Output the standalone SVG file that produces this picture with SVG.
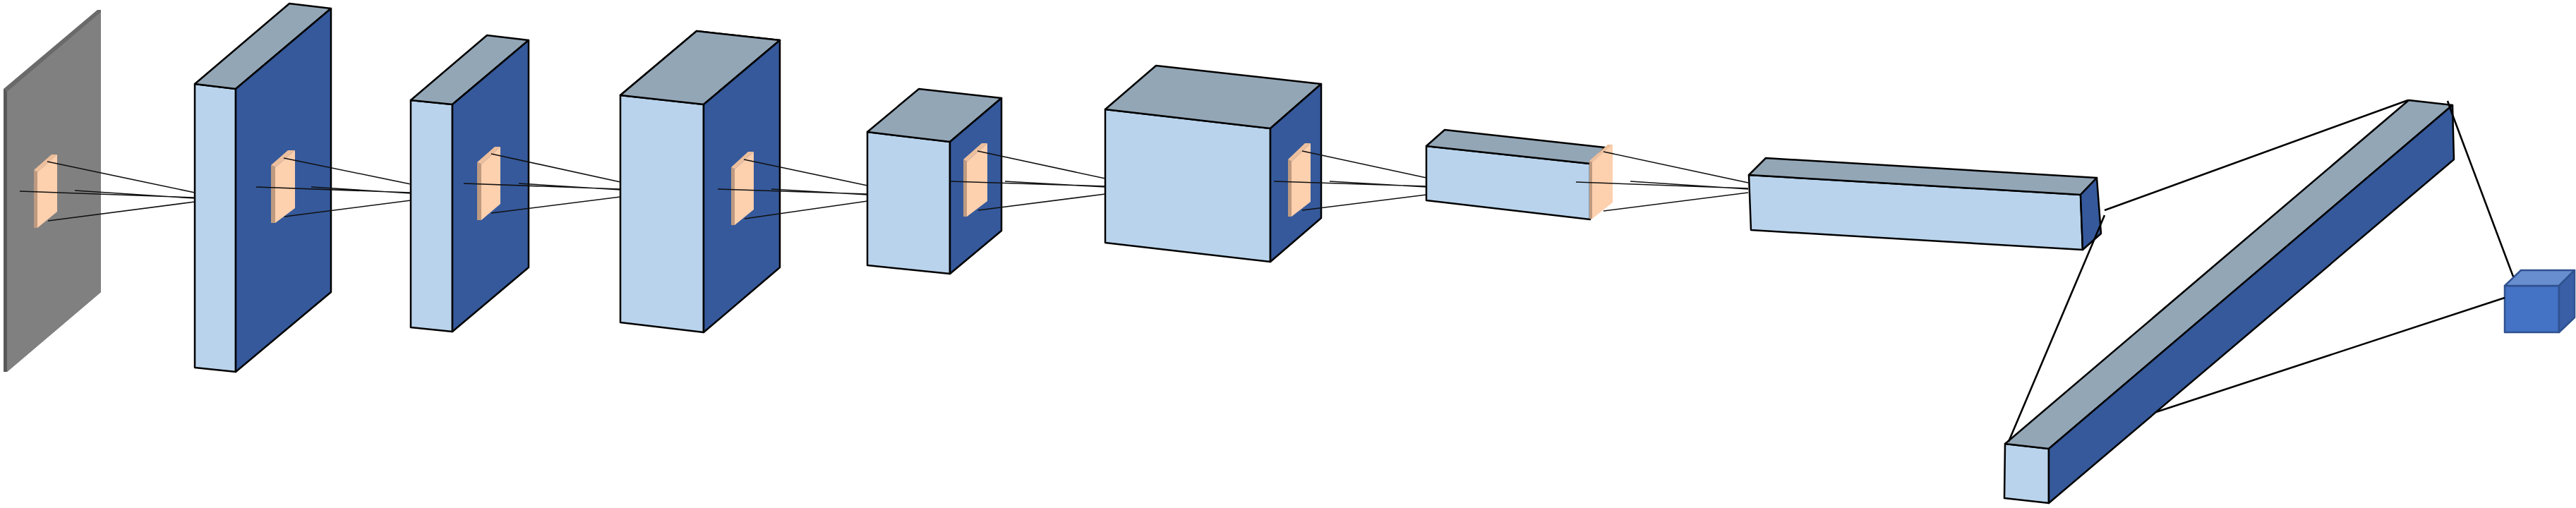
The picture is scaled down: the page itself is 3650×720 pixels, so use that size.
<svg xmlns="http://www.w3.org/2000/svg" width="3650" height="720" viewBox="0 0 3650 720">
<style>
.f{fill:#B9D3EC}.t{fill:#93A6B6}.r{fill:#35599B}
.f,.t,.r{stroke:#000;stroke-width:2.5;stroke-linejoin:round}
.pm{fill:#FDD0AE}.pd{fill:#BE9A80}.pt{fill:#EDBF9C}
.c{stroke:#111;stroke-width:1.6;fill:none}
.c2{stroke:#000;stroke-width:2.6;fill:none}
</style>
<rect width="3650" height="720" fill="#fff"/>
<g id="input-plate">
<polygon points="5,126 138,14 143,14 143,414 10,527 5,527" fill="#6A6A6A"/>
<polygon points="10,130 143,17 143,414 10,527" fill="#808080"/>
<polygon points="5,126 10,130 10,527 5,527" fill="#595959"/>
<polygon points="48,241 73,219 81,219 53,244" class="pt"/><polygon points="48,241 53,244 53,323 48,323" class="pd"/><polygon points="53,244 81,219 81,300 53,323" class="pm"/>
</g>
<g id="block-1">
<polygon class="f" points="276,119 334,126 334,527 276,521"/>
<polygon class="t" points="276,119 410,5 469,12 334,126"/>
<polygon class="r" points="334,126 469,12 469,414 334,527"/>
<polygon points="384,234 408,213 418,213 390,237" class="pt"/><polygon points="384,234 390,237 390,316 384,316" class="pd"/><polygon points="390,237 418,213 418,295 390,316" class="pm"/>
</g>
<g id="block-2">
<polygon class="f" points="582,142 641,148 641,470 582,464"/>
<polygon class="t" points="582,142 690,50 749,57 641,148"/>
<polygon class="r" points="641,148 749,57 749,379 641,470"/>
<polygon points="676,230 701,208 709,208 682,233" class="pt"/><polygon points="676,230 682,233 682,312 676,312" class="pd"/><polygon points="682,233 709,208 709,289 682,312" class="pm"/>
</g>
<g id="block-3">
<polygon class="f" points="879,135 987,44 1105,57 997,148"/>
<polygon class="f" points="879,135 997,148 997,471 879,457"/>
<polygon class="t" points="879,135 987,44 1105,57 997,148"/>
<polygon class="r" points="997,148 1105,57 1105,379 997,471"/>
<polygon points="1036,237 1060,215 1068,215 1041,240" class="pt"/><polygon points="1036,237 1041,240 1041,319 1036,319" class="pd"/><polygon points="1041,240 1068,215 1068,297 1041,319" class="pm"/>
</g>
<g id="block-4">
<polygon class="f" points="1229,187 1346,201 1346,388 1229,376"/>
<polygon class="t" points="1229,187 1302,126 1419,139 1346,201"/>
<polygon class="r" points="1346,201 1419,139 1419,327 1346,388"/>
<polygon points="1365,226 1391,203 1399,203 1370,229" class="pt"/><polygon points="1365,226 1370,229 1370,307 1365,307" class="pd"/><polygon points="1370,229 1399,203 1399,285 1370,307" class="pm"/>
</g>
<g id="block-5">
<polygon class="f" points="1566,155 1800,182 1800,371 1566,344"/>
<polygon class="t" points="1566,155 1638,93 1872,119 1800,182"/>
<polygon class="r" points="1800,182 1872,119 1872,309 1800,371"/>
<polygon points="1825,226 1849,203 1857,203 1830,229" class="pt"/><polygon points="1825,226 1830,229 1830,307 1825,307" class="pd"/><polygon points="1830,229 1857,203 1857,286 1830,307" class="pm"/>
</g>
<g id="block-6">
<polygon class="f" points="2021,207 2253,232 2253,311 2021,284"/>
<polygon class="t" points="2021,207 2047,184 2274,209 2253,232"/>
<polygon points="2252,228 2278,205 2285,205 2256,231" class="pt"/><polygon points="2252,228 2256,231 2256,310 2252,310" class="pd"/><polygon points="2256,231 2285,205 2285,287 2256,310" class="pm"/>
</g>
<g id="block-7">
<polygon class="f" points="2478,248 2948,276 2951,354 2481,326"/>
<polygon class="t" points="2478,248 2502,224 2971,252 2948,276"/>
<polygon class="r" points="2948,276 2971,252 2977,331 2951,354"/>
</g>
<g id="dense-block">
<polygon class="f" points="2841,629 2903,636 2903,713 2840,706"/>
<polygon class="t" points="2841,629 3413,142 3475,149 2903,636"/>
<polygon class="r" points="2903,636 3475,149 3477,226 2903,713"/>
</g>
<g id="output-cube" stroke="#2F528F" stroke-width="2.5" stroke-linejoin="round">
<polygon points="3549,405 3626,405 3626,471 3549,471" fill="#4472C4"/>
<polygon points="3549,405 3572,383 3648,383 3626,405" fill="#698ED0"/>
<polygon points="3626,405 3648,383 3648,450 3626,471" fill="#3A5FA6"/>
</g>
<g id="connectors">
<path class="c" d="M67,229L276,273M68,313L276,286M28,271L276,280M106,270L276,281"/>
<path class="c" d="M402,224L582,261M403,307L582,284M363,265L582,273M441,265L582,274"/>
<path class="c" d="M696,218L879,258M696,302L879,279M657,260L879,268M735,260L879,269"/>
<path class="c" d="M1054,226L1229,263M1055,310L1229,285M1017,268L1229,275M1093,268L1229,276"/>
<path class="c" d="M1385,214L1566,253M1386,298L1566,275M1346,257L1566,264M1424,257L1566,265"/>
<path class="c" d="M1845,214L2021,252M1845,298L2021,276M1805,257L2021,264M1884,257L2021,265"/>
<path class="c" d="M2272,215L2477,259M2272,299L2477,273M2233,258L2477,267M2310,257L2477,268"/>
<path class="c2" d="M2982,298L3412,142M2982,305L2846,626M3468,143L3474,160L3561,392M3055,584L3549,422"/>
</g>
</svg>
